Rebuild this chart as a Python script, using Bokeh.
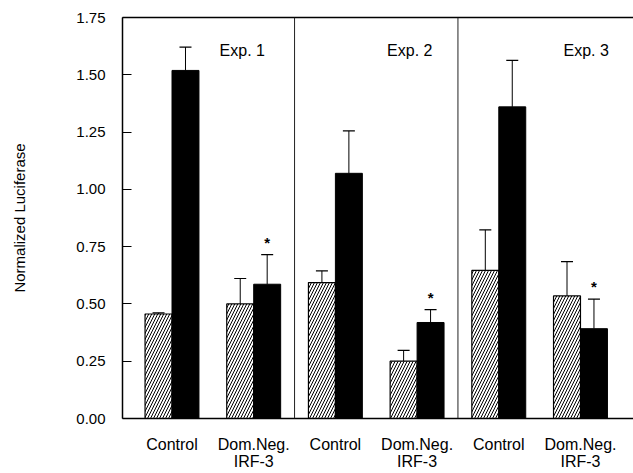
from bokeh.plotting import figure
from bokeh.models import (FixedTicker, LinearAxis, Span, Whisker, TeeHead,
                          ColumnDataSource, Range1d, NumeralTickFormatter)
from bokeh.core.properties import value
from bokeh.embed import file_html
from bokeh.resources import INLINE

# ---------------- data ----------------
categories = ["Control", "Dom.Neg.\nIRF-3", "Control", "Dom.Neg.\nIRF-3",
              "Control", "Dom.Neg.\nIRF-3"]
experiments = ["Exp. 1", "Exp. 2", "Exp. 3"]
hatched_vals = [0.456, 0.500, 0.593, 0.250, 0.646, 0.535]
hatched_err = [0.005, 0.111, 0.051, 0.047, 0.177, 0.150]
solid_vals = [1.519, 0.586, 1.070, 0.419, 1.360, 0.392]
solid_err = [0.102, 0.129, 0.185, 0.056, 0.203, 0.129]
significant = [False, True, False, True, False, True]
y_ticks = [0.0, 0.25, 0.5, 0.75, 1.0, 1.25, 1.5, 1.75]

FONT = "Liberation Sans"
BW = 0.33
xs = list(range(len(categories)))

p = figure(width=633, height=473, output_backend="svg", toolbar_location=None,
           x_range=Range1d(-0.606, 5.649), y_range=Range1d(0, 1.75),
           min_border_left=122, min_border_right=0, min_border_top=17,
           min_border_bottom=54, background_fill_color="white",
           border_fill_color="white", outline_line_color=None)
p.grid.visible = False

# bars
hx = [x - BW / 2 for x in xs]
sx = [x + BW / 2 for x in xs]
hsrc = ColumnDataSource(dict(x=hx, top=hatched_vals,
                             up=[v + e for v, e in zip(hatched_vals, hatched_err)]))
ssrc = ColumnDataSource(dict(x=sx, top=solid_vals,
                             up=[v + e for v, e in zip(solid_vals, solid_err)]))

# error bars (drawn first so bars cover the base)
for src in (hsrc, ssrc):
    w = Whisker(source=src, base="x", lower="top", upper="up", dimension="height",
                line_color="black", line_width=1,
                upper_head=TeeHead(size=12, line_color="black", line_width=1.2),
                lower_head=None, level="underlay")
    p.add_layout(w)

p.vbar(x="x", top="top", width=BW, source=hsrc, fill_color="white",
       line_color="black", line_width=1.2, hatch_pattern="/",
       hatch_color="black", hatch_scale=6, hatch_weight=1)
p.vbar(x="x", top="top", width=BW, source=ssrc, fill_color="black",
       line_color="black", line_width=1)

# asterisks
ax = [sx[i] for i in xs if significant[i]]
ay = [solid_vals[i] + solid_err[i] + 0.055 for i in xs if significant[i]]
p.text(x=ax, y=ay, text=["*"] * len(ax), text_align="center",
       text_baseline="middle", text_font=value(FONT), text_font_size="15px",
       text_font_style="bold", text_color="black")

# experiment separators
for loc in (1.5, 3.5):
    p.add_layout(Span(location=loc, dimension="height", line_color="#222222",
                      line_width=1))

# experiment titles
exp_x = [0.86, 2.91, 5.07]
p.text(x=exp_x, y=[1.607] * 3, text=experiments, text_align="center",
       text_baseline="alphabetic", text_font=value(FONT),
       text_font_size="16px", text_color="black")

# y axis
ya = p.yaxis[0]
ya.ticker = FixedTicker(ticks=y_ticks)
ya.formatter = NumeralTickFormatter(format="0.00")
ya.major_tick_in = 9
ya.major_tick_out = 0
ya.minor_tick_line_color = None
ya.major_tick_line_color = "black"
ya.axis_line_color = "black"
ya.axis_line_width = 1.5
ya.major_label_standoff = 17
ya.major_label_text_font = FONT
ya.major_label_text_font_size = "15px"
ya.major_label_text_color = "black"
ya.axis_label = "Normalized Luciferase"
ya.axis_label_text_font = FONT
ya.axis_label_text_font_size = "15px"
ya.axis_label_text_font_style = "normal"
ya.axis_label_text_color = "black"
ya.axis_label_standoff = 45

# x axis
xa = p.xaxis[0]
xa.ticker = FixedTicker(ticks=xs)
xa.major_label_overrides = {i: c for i, c in enumerate(categories)}
xa.major_tick_line_color = None
xa.minor_tick_line_color = None
xa.axis_line_color = "black"
xa.axis_line_width = 1.5
xa.major_label_standoff = 11
xa.major_label_text_font = FONT
xa.major_label_text_font_size = "16px"
xa.major_label_text_color = "black"
xa.major_label_text_line_height = 1.05

# top border line
top = LinearAxis(ticker=FixedTicker(ticks=[]), axis_line_color="black",
                 axis_line_width=1.5, major_tick_line_color=None,
                 minor_tick_line_color=None)
p.add_layout(top, "above")

open("out.html", "w").write(file_html(p, INLINE))
